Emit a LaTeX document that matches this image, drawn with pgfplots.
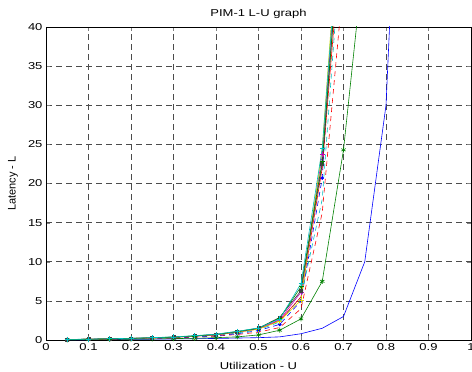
\documentclass[border=0pt]{standalone}
\usepackage{pgfplots}
\pgfplotsset{compat=1.18}
\usepackage{fontspec}
\setmainfont{Liberation Sans}
\newfontfamily\wfont[FakeStretch=1.3]{Liberation Sans}
\usetikzlibrary{calc}
\definecolor{mb}{rgb}{0,0,1}
\definecolor{mg}{rgb}{0,0.5,0}
\definecolor{mr}{rgb}{1,0,0}
\definecolor{mc}{rgb}{0,0.75,0.75}
\definecolor{mm}{rgb}{0.75,0,0.75}
\definecolor{my}{rgb}{0.85,0.85,0}
\definecolor{mk}{rgb}{0.25,0.25,0.25}
\begin{document}
\fontsize{10bp}{12bp}\selectfont
\begin{tikzpicture}
\begin{axis}[
  name=ax,
  scale only axis,
  width=425bp, height=313bp,
  xmin=0, xmax=1, ymin=0, ymax=40,
  xtick={0,0.1,...,1}, ytick={0,5,...,40},
  xticklabels={0,0.1,0.2,0.3,0.4,0.5,0.6,0.7,0.8,0.9,1},
  tick align=inside, tick pos=both,
  major tick length=4bp,
  grid=major,
  major grid style={black!70, dash pattern=on 6bp off 4bp, line width=0.5bp},
  axis line style={black, line width=0.6bp},
  /pgf/number format/assume math mode=true,
  tick label style={font=\wfont\fontsize{10bp}{12bp}\selectfont},
  every axis title/.style={at={(axis description cs:0.5,1.0431)}, anchor=center, font=\wfont\fontsize{10bp}{12bp}\selectfont},
  every axis x label/.style={at={(axis description cs:0.5,-0.0831)}, anchor=center, font=\wfont\fontsize{10bp}{12bp}\selectfont},
  every axis y label/.style={at={(axis description cs:-0.0776,0.5)}, rotate=90, anchor=center},
  title={PIM-1 L-U graph},
  xlabel={Utilization - U},
  ylabel={\fontsize{11bp}{13bp}\selectfont Latency - L},
  clip=true,
  every axis plot/.append style={line width=0.6bp, mark size=2.5bp},
]
% blue solid
\addplot[mb, mark=none] coordinates {(0.05,0.02)(0.1,0.04)(0.15,0.06)(0.2,0.08)(0.25,0.1)(0.3,0.13)(0.35,0.16)(0.4,0.2)(0.45,0.25)(0.5,0.3)(0.55,0.4)(0.6,0.8)(0.65,1.5)(0.7,3)(0.75,10)(0.8,30)(0.85,90)};
% green solid star
\addplot[mg, mark=asterisk] coordinates {(0.05,0.03)(0.1,0.05)(0.15,0.08)(0.2,0.1)(0.25,0.14)(0.3,0.18)(0.35,0.22)(0.4,0.3)(0.45,0.4)(0.5,0.65)(0.55,1.25)(0.6,2.7)(0.65,7.5)(0.7,24.3)(0.75,50)};
% red dashed
\addplot[mr, dash pattern=on 5bp off 4bp, mark=none] coordinates {(0.05,0.05)(0.1,0.08)(0.15,0.12)(0.2,0.15)(0.25,0.2)(0.3,0.27)(0.35,0.35)(0.4,0.5)(0.45,0.7)(0.5,1.0)(0.55,1.6)(0.6,4)(0.65,16.3)(0.7,46)};
% blue dashed dot marker
\addplot[mb, dash pattern=on 5bp off 4bp, mark=*, mark size=1.5bp, mark options={solid}] coordinates {(0.05,0.05)(0.1,0.08)(0.15,0.12)(0.2,0.16)(0.25,0.22)(0.3,0.3)(0.35,0.4)(0.4,0.55)(0.45,0.8)(0.5,1.2)(0.55,2.0)(0.6,5)(0.65,20.7)(0.7,65)};
% cyan dashed
\addplot[mc, dash pattern=on 5bp off 4bp, mark=none] coordinates {(0.05,0.06)(0.1,0.09)(0.15,0.13)(0.2,0.18)(0.25,0.24)(0.3,0.32)(0.35,0.45)(0.4,0.6)(0.45,0.9)(0.5,1.3)(0.55,2.3)(0.6,5.5)(0.65,18)(0.7,55)};
% red solid
\addplot[mr, mark=none] coordinates {(0.05,0.06)(0.1,0.1)(0.15,0.14)(0.2,0.2)(0.25,0.27)(0.3,0.35)(0.35,0.48)(0.4,0.65)(0.45,1.0)(0.5,1.4)(0.55,2.5)(0.6,5.5)(0.65,22)(0.7,55)};
% magenta
\addplot[mm, mark=+] coordinates {(0.05,0.06)(0.1,0.1)(0.15,0.15)(0.2,0.2)(0.25,0.27)(0.3,0.36)(0.35,0.5)(0.4,0.68)(0.45,1.0)(0.5,1.45)(0.55,2.6)(0.6,6.1)(0.65,23.7)(0.7,60)};
% yellow
\addplot[my, mark=+] coordinates {(0.05,0.06)(0.1,0.1)(0.15,0.15)(0.2,0.2)(0.25,0.27)(0.3,0.36)(0.35,0.5)(0.4,0.68)(0.45,1.0)(0.5,1.4)(0.55,2.4)(0.6,5.1)(0.65,24.5)(0.7,62)};
% dark gray squares
\addplot[mk, mark=square*, mark size=1.5bp] coordinates {(0.05,0.07)(0.1,0.1)(0.15,0.15)(0.2,0.21)(0.25,0.28)(0.3,0.37)(0.35,0.52)(0.4,0.7)(0.45,1.05)(0.5,1.5)(0.55,2.9)(0.6,6.3)(0.65,22.5)(0.7,58)};
% green solid plus
\addplot[mg, mark=+] coordinates {(0.05,0.07)(0.1,0.1)(0.15,0.15)(0.2,0.21)(0.25,0.29)(0.3,0.38)(0.35,0.53)(0.4,0.72)(0.45,1.1)(0.5,1.5)(0.55,2.8)(0.6,6.8)(0.65,22.8)(0.7,58)};
% cyan solid plus
\addplot[mc, mark=+] coordinates {(0.05,0.07)(0.1,0.11)(0.15,0.16)(0.2,0.22)(0.25,0.3)(0.3,0.4)(0.35,0.55)(0.4,0.75)(0.45,1.1)(0.5,1.55)(0.55,2.7)(0.6,7.2)(0.65,24.5)(0.7,60)};
\end{axis}
\pgfresetboundingbox
\useasboundingbox ($(ax.south west)+(-46bp,-32bp)$) rectangle ($(ax.north east)+(1bp,27bp)$);
\end{tikzpicture}
\end{document}
